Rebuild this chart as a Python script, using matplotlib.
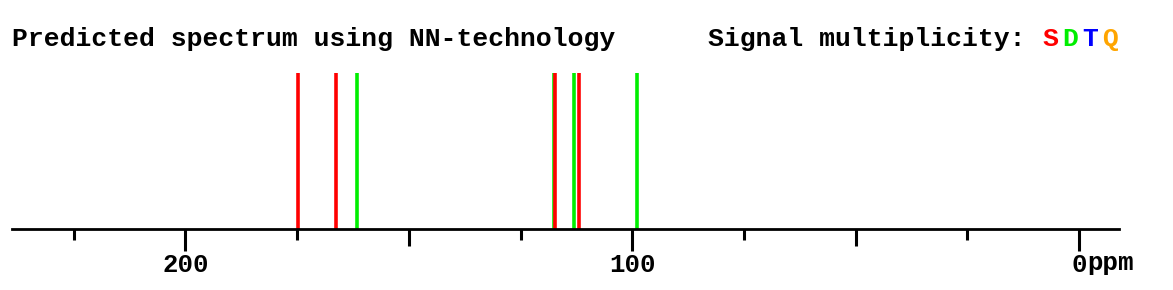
"""Predicted 13C spectrum stick plot with multiplicity colouring."""

from __future__ import annotations

from pathlib import Path

import matplotlib.pyplot as plt

# chemical shifts (ppm) and multiplicity of each predicted signal
shifts = [174.7, 166.2, 161.5, 117.5, 117.35, 113.1, 112.0, 99.0]
multiplicity = ["S", "S", "D", "D", "S", "D", "S", "D"]
intensity = [1, 1, 1, 1, 1, 1, 1, 1]

major_ticks = [0, 100, 200]
major_labels = ["0", "100", "200"]
mid_ticks = [50, 150]
minor_ticks = [25, 75, 125, 175, 225]
x_range = (238.8, -8.9)

mult_colors = {"S": "#ff0000", "D": "#00ee00", "T": "#0000ff", "Q": "#ffa500"}

FONT = "Liberation Mono"
W, H = 1173, 290


def _save_figure(fig: plt.Figure, save_path: str | Path | None) -> None:
    if save_path is None:
        return
    path = Path(save_path)
    path.parent.mkdir(parents=True, exist_ok=True)
    fig.savefig(path, dpi=100)


def plot_spectrum(save_path: str | Path | None = None) -> plt.Figure:
    fig = plt.figure(figsize=(W / 100, H / 100), dpi=100)
    ax = fig.add_axes([12 / W, 61.3 / H, 1107 / W, 155.4 / H])

    # green first so an overlapping red stick sits on top
    order = sorted(range(len(shifts)), key=lambda i: multiplicity[i] == "S")
    for i in order:
        ax.vlines(shifts[i], 0, intensity[i], color=mult_colors[multiplicity[i]],
                  linewidth=2.6, capstyle="butt")

    ax.set_xlim(*x_range)
    ax.set_ylim(0, 1)
    for side in ("top", "left", "right"):
        ax.spines[side].set_visible(False)
    ax.spines["bottom"].set_linewidth(2.0)
    ax.set_yticks([])

    ax.set_xticks(major_ticks)
    ax.set_xticklabels(major_labels, fontfamily=FONT, fontweight="bold", fontsize=18.5)
    ax.set_xticks(minor_ticks, minor=True)
    ax.tick_params(axis="x", which="major", direction="out", length=16, width=2.2, pad=1.5)
    ax.tick_params(axis="x", which="minor", direction="out", length=8, width=2.2)

    sec = ax.secondary_xaxis("bottom")
    sec.set_xticks(mid_ticks)
    sec.set_xticklabels([])
    sec.spines["bottom"].set_visible(False)
    sec.tick_params(axis="x", direction="out", length=12, width=2.2)

    ax.annotate("ppm", xy=(0, 0), xycoords=ax.get_xaxis_transform(),
                xytext=(8, -41.3), textcoords="offset pixels",
                ha="left", va="baseline", fontfamily=FONT, fontweight="bold",
                fontsize=18.5, annotation_clip=False)

    text_kw = dict(fontfamily=FONT, fontweight="bold", fontsize=19, va="baseline")
    fig.text(12 / W, (H - 46) / H, "Predicted spectrum using NN-technology", **text_kw)
    fig.text(708 / W, (H - 46) / H, "Signal multiplicity:", **text_kw)
    for k, letter in enumerate(["S", "D", "T", "Q"]):
        fig.text((1042 + 20 * k) / W, (H - 46) / H, letter,
                 color=mult_colors[letter], **text_kw)

    _save_figure(fig, save_path)
    return fig


if __name__ == "__main__":
    plot_spectrum("out.png")
